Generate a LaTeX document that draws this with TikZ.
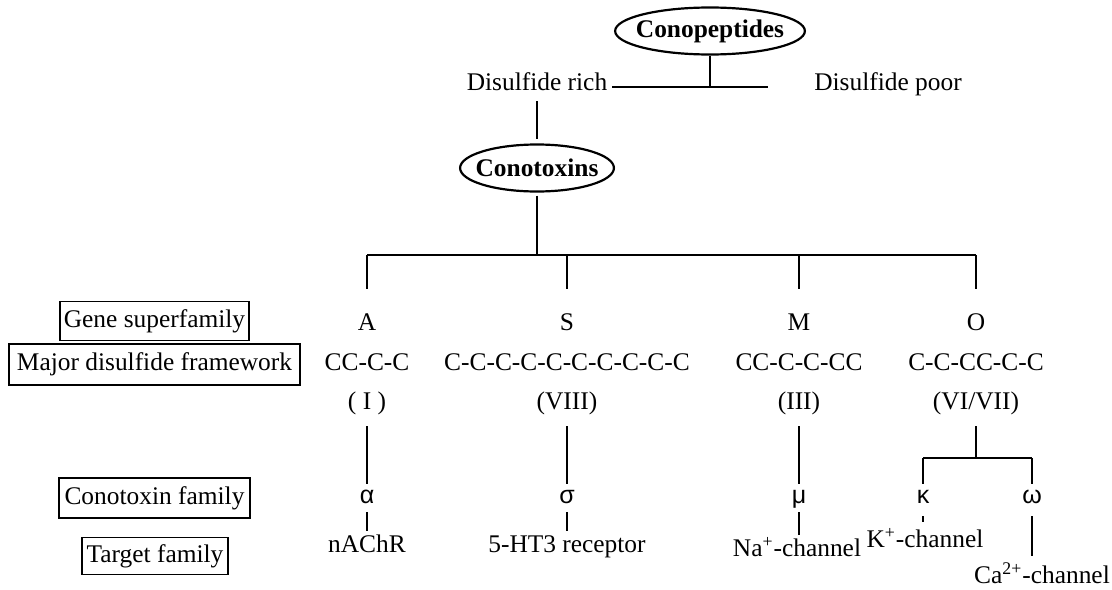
\documentclass[tikz,border=0pt]{standalone}
\usepackage{fontspec}
\setmainfont{Liberation Serif}
\newfontfamily\greekfont{Liberation Sans}
\usetikzlibrary{shapes.geometric}

\begin{document}
\begin{tikzpicture}[x=0.5pt, y=-0.5pt, line width=1pt,
        font=\fontsize{12.7}{15}\selectfont,
        txt/.style={inner sep=0pt, text height=9pt, text depth=3pt},
        gk/.style={txt, font=\fontsize{12.5}{14}\selectfont\greekfont},
        oval/.style={ellipse, draw, line width=1.1pt, font=\fontsize{12.7}{15}\selectfont\bfseries,
                     inner xsep=-3.5pt, inner ysep=0pt, minimum height=23.5pt},
        rowbox/.style={draw, line width=0.9pt, inner xsep=2pt, inner ysep=0pt,
                       minimum height=19.5pt, text height=9pt, text depth=3pt}]
        \useasboundingbox (0,0) rectangle (1112,589);

        % Topo da arvore
        \node[oval] (conopep) at (710,31) {Conopeptides};
        \node[txt] (rich) at (537,84) {Disulfide rich};
        \node[txt] (poor) at (888,84) {Disulfide poor};
        \node[oval] (conotox) at (537,168) {Conotoxins};

        \coordinate (splitT) at (710,87);
        \coordinate (splitEnd) at (768,87);
        \coordinate (bus) at (537,255);
        \coordinate (busL) at (367,255);
        \coordinate (busR) at (976,255);

        \draw (conopep.south) -- (splitT);
        \draw[shorten <=2pt] (rich.east |- splitT) -- (splitEnd);
        \draw[shorten <=2pt, shorten >=2pt] (rich.south) -- (conotox.north);
        \draw[shorten <=1.5pt] (conotox.south) -- (bus);
        \draw (busL) -- (busR);

        % Rotulos das linhas (caixas)
        \node[rowbox, minimum width=94.5pt] (lblGene) at (154.5,321) {Gene superfamily};
        \node[rowbox, minimum width=145.5pt, minimum height=20.5pt] (lblFrame) at (154.5,364.5) {Major disulfide framework};
        \node[rowbox, minimum width=95.5pt, minimum height=20pt] (lblFam) at (154.5,498) {Conotoxin family};
        \node[rowbox, minimum width=73pt, minimum height=18.5pt] (lblTarget) at (155,556) {Target family};

        % Superfamilias
        \node[txt] (famA) at (367,324) {A};
        \node[txt] (famS) at (567,324) {S};
        \node[txt] (famM) at (799,324) {M};
        \node[txt] (famO) at (976,324) {O};

        \node[txt] (fwA) at (367,364) {CC-C-C};
        \node[txt] (fwS) at (567,364) {C-C-C-C-C-C-C-C-C-C};
        \node[txt] (fwM) at (799,364) {CC-C-C-CC};
        \node[txt] (fwO) at (976,364) {C-C-CC-C-C};

        \node[txt] (romA) at (367,403) {( I )};
        \node[txt] (romS) at (567,403) {(VIII)};
        \node[txt] (romM) at (799,403) {(III)};
        \node[txt] (romO) at (976,403) {(VI/VII)};

        \foreach \f in {famA,famS,famM,famO}
            \draw[shorten >=11pt] (\f |- bus) -- (\f.north);

        % Familias de conotoxinas
        \node[gk] (gA) at (367,497) {α};
        \node[gk] (gS) at (567,497) {σ};
        \node[gk] (gM) at (799,497) {μ};
        \node[gk] (gK) at (923,497) {κ};
        \node[gk] (gW) at (1032,497) {ω};

        \coordinate (splitO) at (976,458);
        \coordinate (kapT) at (923,458);
        \coordinate (omeT) at (1032,458);

        \foreach \c in {A,S,M}
            \draw[shorten <=5pt] (rom\c.south) -- (g\c.north);
        \draw[shorten <=5pt] (romO.south) -- (splitO);
        \draw (kapT) -- (omeT);
        \draw (kapT) -- (gK.north);
        \draw (omeT) -- (gW.north);

        % Alvos
        \node[txt] (tA) at (367,546) {nAChR};
        \node[txt] (tS) at (567,546) {5-HT3 receptor};
        \node[txt] (tM) at (797,550) {Na\textsuperscript{+}-channel};
        \node[txt] (tK) at (925,541) {K\textsuperscript{+}-channel};
        \node[txt] (tW) at (1042,577) {Ca\textsuperscript{2+}-channel};

        \foreach \c in {A,S,M}
            \draw[shorten <=1pt, shorten >=1pt] (g\c.south) -- (g\c.south |- t\c.north);
        \draw[shorten <=3pt, shorten >=3pt] (gK.south) -- (gK.south |- tK.north);
        \draw[shorten <=3pt, shorten >=4pt] (gW.south) -- (gW.south |- tW.north);

    \end{tikzpicture}
\end{document}
